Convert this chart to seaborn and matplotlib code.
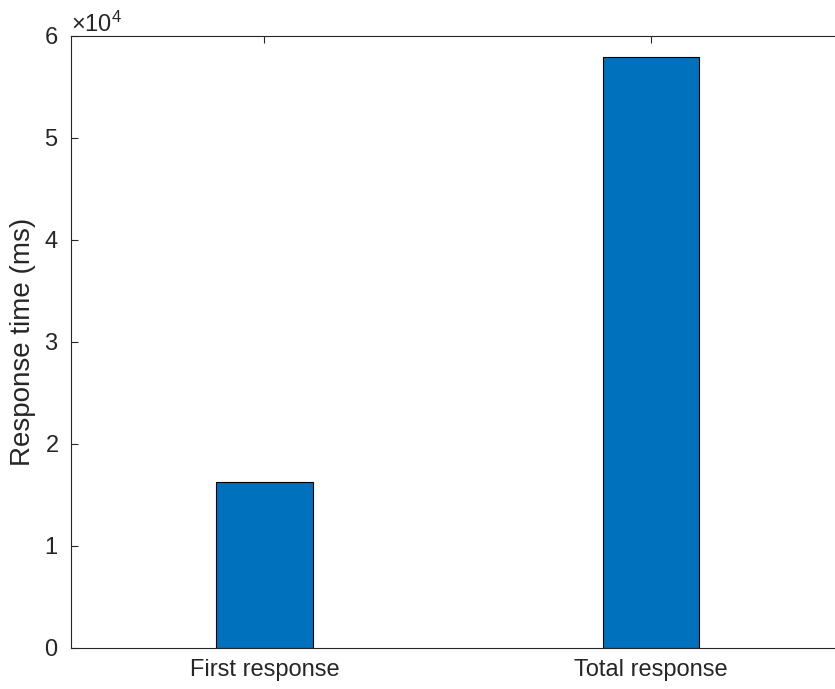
import matplotlib
matplotlib.use("Agg")
import matplotlib.pyplot as plt
import seaborn as sns
import pandas as pd

categories = ["First response", "Total response"]
response_ms = [16270, 57950]

sns.set_style("white")
plt.rcParams["font.family"] = ["Liberation Sans", "DejaVu Sans"]
plt.rcParams["mathtext.fontset"] = "custom"
plt.rcParams["mathtext.rm"] = "Liberation Sans"
plt.rcParams["mathtext.it"] = "Liberation Sans"

df = pd.DataFrame({"category": categories, "value": response_ms})

fig = plt.figure(figsize=(8.35, 6.89), dpi=100)
ax = fig.add_axes([71 / 835, 41 / 689, 773.5 / 835, 612 / 689])

sns.barplot(data=df, x="category", y="value", ax=ax, color="#0072BD",
            saturation=1, width=0.25, edgecolor="black", linewidth=0.8)

ax.set_xlim(-0.5, 1.5)
ax.set_ylim(0, 60000)
ax.set_yticks([0, 10000, 20000, 30000, 40000, 50000, 60000])
ax.ticklabel_format(axis="y", style="sci", scilimits=(4, 4), useMathText=True)
ax.yaxis.get_offset_text().set_fontsize(17)
ax.yaxis.get_offset_text().set_color("#262626")

ax.set_xlabel("")
ax.set_ylabel("Response time (ms)", fontsize=20, color="#262626", labelpad=6)

for side in ["left", "bottom", "top", "right"]:
    ax.spines[side].set_visible(True)
    ax.spines[side].set_color("#262626")
    ax.spines[side].set_linewidth(0.8)

ax.tick_params(axis="both", direction="in", length=5, width=0.8,
               colors="#262626", labelsize=17, top=True, right=True, left=True, bottom=True)
ax.tick_params(axis="x", pad=8)
ax.tick_params(axis="y", pad=9)
for lab in ax.get_xticklabels() + ax.get_yticklabels():
    lab.set_color("#262626")

fig.savefig("out.png", dpi=100)
